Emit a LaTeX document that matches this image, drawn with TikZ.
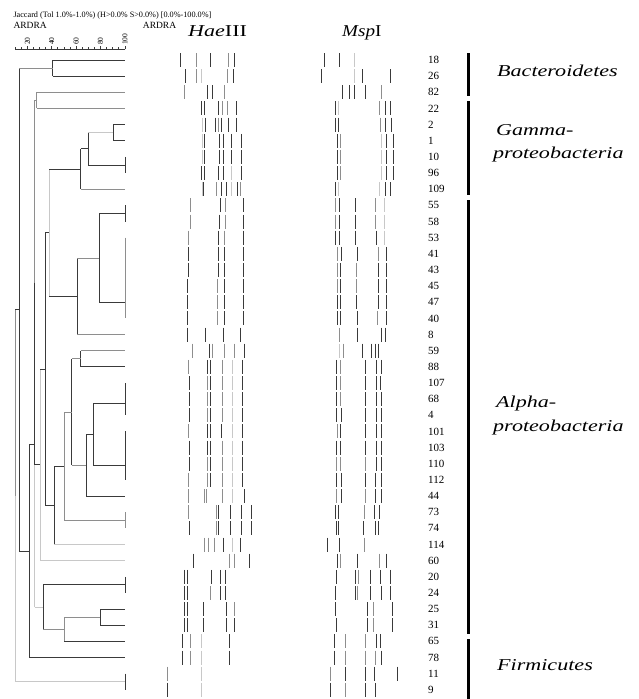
\documentclass[tikz,border=0pt]{standalone}
\usepackage{fontspec}
\setmainfont{Liberation Serif}
\usepackage{graphicx}
\definecolor{cd}{HTML}{3A3A3A}
\definecolor{cg}{HTML}{8E8E8E}
\definecolor{cl}{HTML}{C8C8C8}
\newcommand{\bandrow}[2]{\foreach \bx/\bc in {#2}{\draw[band,draw=\bc] (\bx,{60+16.15*#1-7}) -- (\bx,{60+16.15*#1+7});}}
\newcommand{\clus}[4]{\draw[#3] (#1) -- (#1 |- #2); \draw[#4] (#1 |- #2) -- (#2);}
\tikzset{
  dk/.style={draw=cd,line width=0.9pt},
  gy/.style={draw=cg,line width=0.9pt},
  lg/.style={draw=cl,line width=0.9pt},
  band/.style={line width=1.0pt},
  num/.style={anchor=west,inner sep=0pt,font=\fontsize{11}{12}\selectfont},
  grp/.style={anchor=base west,inner sep=0pt,font=\fontsize{16.6}{18}\selectfont\itshape},
  bar/.style={line width=2.7pt,draw=black},
  sclab/.style={anchor=west,rotate=90,inner sep=0pt,font=\fontsize{7.5}{8}\selectfont},
}
\begin{document}
\begin{tikzpicture}[x=1pt,y=-1pt]
\useasboundingbox (0,0) rectangle (639,699);
\fill[white] (0,0) rectangle (639,699);
% header
\node[anchor=base west,inner sep=0pt,font=\fontsize{8.2}{9}\selectfont] (hdr) at (13.3,17.3) {Jaccard (Tol 1.0\%-1.0\%) (H>0.0\% S>0.0\%) [0.0\%-100.0\%]};
\node[anchor=base west,inner sep=0pt,font=\fontsize{9.5}{10}\selectfont] (ar1) at (13.3,28) {ARDRA};
\node[anchor=base west,inner sep=0pt,font=\fontsize{9.5}{10}\selectfont] (ar2) at (142.7,28) {ARDRA};
\node[anchor=base west,inner sep=0pt,font=\fontsize{16.6}{18}\selectfont] (hae) at (188,36) {\scalebox{1.33}[1]{\itshape Hae\upshape III}};
\node[anchor=base west,inner sep=0pt,font=\fontsize{16.6}{18}\selectfont] (msp) at (342,36) {\scalebox{1.15}[1]{\itshape Msp\upshape I}};
% scale
\draw[cd,line width=0.8pt] (15.1,49) -- (124.9,49);
\foreach \v in {10,15,...,100}{\draw[cd,line width=0.7pt] ({2.9+1.22*\v},49) -- ({2.9+1.22*\v},46.5);}
\foreach \v in {20,40,60,80,100}{\draw[cd,line width=0.7pt] ({2.9+1.22*\v},49) -- ({2.9+1.22*\v},45.5);
  \node[sclab] (s\v) at ({2.9+1.22*\v},45) {\v};}
% leaves and labels
\foreach \lab [count=\i from 0] in {18,26,82,22,2,1,10,96,109,55,58,53,41,43,45,47,40,8,59,88,107,68,4,101,103,110,112,44,73,74,114,60,20,24,25,31,65,78,11,9}{
  \coordinate (l\i) at (125,{60+16.15*\i});
  \node[num] (t\i) at (428,{60+16.15*\i}) {\lab};
}
% cluster coordinates
\coordinate (cA) at (52.7,68.075);
\coordinate (cB) at (36.7,100.375);
\coordinate (c21) at (113.3,132.675);
\coordinate (g10) at (125,164.975);
\coordinate (cG1) at (88.3,148.825);
\coordinate (cG2) at (80.7,169.01);
\coordinate (g55) at (125,213.425);
\coordinate (gP) at (125,302.755);
\coordinate (cQ) at (99.3,258.09);
\coordinate (cR) at (77.3,296.32);
\coordinate (cS) at (49.3,232.665);
\coordinate (g59) at (80.7,358.775);
\coordinate (gT3) at (125,403.19);
\coordinate (gT4) at (125,465.77);
\coordinate (cU) at (93.3,434.48);
\coordinate (cV) at (86,465.265);
\coordinate (cW) at (71.7,412.02);
\coordinate (g73) at (125,520.275);
\coordinate (cX) at (64,466.15);
\coordinate (cY) at (54,505.32);
\coordinate (cZ) at (45,368.99);
\coordinate (cK) at (40,464.82);
\coordinate (cE) at (34.7,282.6);
\coordinate (g20) at (125,584.875);
\coordinate (g25) at (100,617.175);
\coordinate (cM) at (64,629.29);
\coordinate (cN) at (43.3,607.08);
\coordinate (cD) at (34.7,444.84);
\coordinate (cF) at (29.3,551.2);
\coordinate (cH) at (19.3,309.64);
\coordinate (g11) at (125,681.775);
\coordinate (root) at (15,495.7);
% identical groups
\draw[dk] (l6) -- (l7);
\draw[dk] (l9) -- (l10);
\draw[gy] (l11) -- (l16);
\draw[dk] (l20) -- (l22);
\draw[dk] (l23) -- (l26);
\draw[gy] (l28) -- (l29);
\draw[dk] (l32) -- (l33);
\draw[dk] (l38) -- (l39);
% tree
\clus{cA}{l0}{dk}{dk}\clus{cA}{l1}{dk}{dk}
\clus{cB}{l2}{gy}{gy}\clus{cB}{l3}{gy}{gy}
\clus{c21}{l4}{dk}{dk}\clus{c21}{l5}{dk}{dk}
\clus{cG1}{c21}{dk}{lg}\clus{cG1}{g10}{dk}{dk}
\clus{cG2}{cG1}{dk}{dk}\clus{cG2}{l8}{dk}{gy}
\clus{cQ}{g55}{dk}{dk}\clus{cQ}{gP}{dk}{dk}
\clus{cR}{cQ}{dk}{gy}\clus{cR}{l17}{dk}{gy}
\clus{cS}{cG2}{lg}{dk}\clus{cS}{cR}{lg}{dk}
\clus{g59}{l18}{dk}{gy}\clus{g59}{l19}{dk}{dk}
\clus{cU}{gT3}{dk}{dk}\clus{cU}{gT4}{dk}{dk}
\clus{cV}{cU}{dk}{dk}\clus{cV}{l27}{dk}{dk}
\clus{cW}{g59}{dk}{gy}\clus{cW}{cV}{dk}{gy}
\clus{cX}{cW}{gy}{gy}\clus{cX}{g73}{gy}{gy}
\clus{cY}{cX}{dk}{dk}\clus{cY}{l30}{dk}{lg}
\clus{cZ}{cS}{dk}{dk}\clus{cZ}{cY}{dk}{dk}
\clus{cK}{cZ}{lg}{dk}\clus{cK}{l31}{lg}{lg}
\clus{g25}{l34}{dk}{dk}\clus{g25}{l35}{dk}{dk}
\clus{cM}{g25}{gy}{gy}\clus{cM}{l36}{gy}{dk}
\clus{cN}{g20}{dk}{dk}\clus{cN}{cM}{dk}{gy}
\clus{cD}{cE}{dk}{dk}\clus{cD}{cN}{lg}{lg}
\clus{cE}{cB}{gy}{gy}\clus{cE}{cK}{dk}{dk}
\clus{cF}{cD}{dk}{dk}\clus{cF}{l37}{dk}{dk}
\clus{cH}{cA}{dk}{gy}\clus{cH}{cF}{dk}{dk}
\clus{root}{cH}{gy}{dk}\clus{root}{g11}{lg}{lg}
% HaeIII bands
\bandrow{0}{180/cd,196.7/cg,210.7/cd,228.7/cg,234.3/cd}
\bandrow{1}{185.3/cd,196/cg,201.7/cl,227.7/cg,233.3/cd}
\bandrow{2}{184.3/cg,207.7/cd,212/cd,224/cg}
\bandrow{3}{201.3/cd,204/cd,218.7/cd,222/cg,227.7/cg,236.3/cd}
\bandrow{4}{202/cl,205/cd,215.7/cd,218.3/cg,221.7/cd,228.3/cd,236.3/cd}
\bandrow{5}{202.3/cl,204.3/cd,219.3/cd,223.3/cd,231.3/cd,241/cd}
\bandrow{6}{202.3/cl,204.3/cd,219.3/cd,223.3/cd,231.3/cd,241/cd}
\bandrow{7}{201.3/cd,204.7/cd,218.7/cd,223.3/cd,231.7/cl,241/cd}
\bandrow{8}{202.3/cl,203.7/cd,216/cg,221.7/cd,226/cd,231.7/cl,237.7/cd,240/cg}
\bandrow{9}{190.7/cg,220/cd,225.7/cg,243.3/cd}
\bandrow{10}{190.7/cg,219.3/cd,225.7/cg,243.3/cd}
\bandrow{11}{188/cg,218.3/cd,224/cg,243.3/cd}
\bandrow{12}{188/cd,218.3/cd,224.3/cd,243.3/cd}
\bandrow{13}{188/cd,218.3/cd,224.3/cd,243.3/cd}
\bandrow{14}{187.3/cd,217.7/cg,224.3/cd,243.3/cd}
\bandrow{15}{187.3/cd,217.7/cg,224.3/cd,243.3/cd}
\bandrow{16}{187.3/cd,217.7/cg,224.3/cd,243.3/cd}
\bandrow{17}{187.3/cd,205.3/cd,223.3/cd,240.3/cd}
\bandrow{18}{192/cg,209.3/cd,212/cg,224/cg,234/cg,244.3/cd}
\bandrow{19}{188.7/cg,207.3/cd,210.3/cd,222/cg,232/cl,242.3/cd}
\bandrow{20}{189.3/cd,207.3/cg,210.3/cd,222/cg,232/cl,242.3/cd}
\bandrow{21}{189.3/cd,207.3/cg,210.3/cd,222/cg,232/cl,242.3/cd}
\bandrow{22}{189.3/cd,207.3/cg,210.3/cd,222/cg,232/cl,242.3/cd}
\bandrow{23}{188.7/cg,207.3/cd,210.3/cd,221.3/cd,232/cl,242.3/cd}
\bandrow{24}{189.3/cd,207.3/cd,210.3/cd,222/cg,232/cl,242.3/cd}
\bandrow{25}{189.3/cd,207.7/cg,210/cd,222/cg,232/cl,242.3/cd}
\bandrow{26}{188.7/cg,207.7/cg,210/cd,222/cg,232/cl,242.3/cd}
\bandrow{27}{188.7/cg,204.7/cg,206.7/cg,222/cg,232/cl,244.3/cd}
\bandrow{28}{188.7/cg,216.7/cg,218.3/cd,230.7/cd,241.3/cd,251.7/cd}
\bandrow{29}{189.3/cd,216.7/cg,218.3/cd,230.7/cd,241.3/cd,251.7/cd}
\bandrow{30}{204.3/cg,208.3/cg,214/cg,223.3/cd,232/cl,240.3/cd}
\bandrow{31}{193.3/cd,229.7/cg,234/cg,249.7/cd}
\bandrow{32}{184.3/cd,187.7/cd,211.3/cd,220.7/cd,225.3/cd}
\bandrow{33}{184/cd,187.3/cd,210.7/cg,220.7/cd,225.3/cd}
\bandrow{34}{184.3/cd,187.7/cd,203.7/cd,226.3/cd,234/cg}
\bandrow{35}{184.3/cd,187.7/cd,203.7/cd,226.3/cd,234.3/cd}
\bandrow{36}{182.3/cd,190.3/cg,201.7/cl,229.3/cd}
\bandrow{37}{182.3/cd,190.3/cg,201.7/cl,229.3/cd}
\bandrow{38}{167.3/cg,201.7/cl}
\bandrow{39}{167.3/cd,201.7/cl}
% MspI bands
\bandrow{0}{324.3/cd,339.3/cd,354.3/cl}
\bandrow{1}{321.3/cd,354.3/cl,362.7/cd,390.3/cd}
\bandrow{2}{342.3/cd,349.3/cd,354.3/cd,365.3/cd,381.7/cg}
\bandrow{3}{335/cd,338.3/cl,379.3/cg,385/cd,390/cd}
\bandrow{4}{335/cd,338.3/cd,380/cg,385.7/cd,391.3/cd}
\bandrow{5}{337.7/cd,340.7/cg,381.7/cl,386.3/cd,393.3/cd}
\bandrow{6}{337.7/cd,340.7/cg,381.7/cl,386.3/cd,393.3/cd}
\bandrow{7}{337.7/cd,340.7/cg,381.7/cl,386.3/cd,393.3/cd}
\bandrow{8}{335/cd,338.3/cl,379.3/cl,385/cd,390/cd}
\bandrow{9}{335/cg,339.3/cd,355.3/cd,375.7/cg,384/cl}
\bandrow{10}{335/cg,339.3/cd,355.3/cd,375.7/cg,384/cl}
\bandrow{11}{335.7/cd,339.3/cd,355.3/cd,376.7/cd,384/cl}
\bandrow{12}{337/cg,341/cd,357.3/cd,378.3/cg,386.3/cd}
\bandrow{13}{337/cg,340.3/cd,356.7/cg,378.3/cd,386.3/cd}
\bandrow{14}{337/cg,340.3/cd,356.7/cg,378.3/cd,386.3/cd}
\bandrow{15}{337/cd,340.3/cd,356.7/cd,378.3/cd,386.3/cd}
\bandrow{16}{337/cd,340.3/cd,357.3/cd,377.7/cg,386.3/cd}
\bandrow{17}{339.7/cg,357.3/cd,381.3/cd,385.3/cd}
\bandrow{18}{339.3/cl,343/cg,362/cd,371/cd,375/cd,378.3/cd}
\bandrow{19}{336.3/cd,340.3/cg,365.7/cd,376/cd,381/cd}
\bandrow{20}{336.3/cd,340.3/cg,365.7/cd,376.7/cd,380.3/cd}
\bandrow{21}{336.3/cd,340.3/cg,365.7/cd,376.7/cd,381/cd}
\bandrow{22}{336.3/cd,341/cd,365.7/cd,376/cd,381/cd}
\bandrow{23}{337/cg,340.3/cd,365/cd,376/cd,381/cd}
\bandrow{24}{336.3/cd,340.3/cd,365.7/cd,376/cd,381/cd}
\bandrow{25}{336.3/cg,340.3/cg,365.7/cg,376.7/cd,381/cd}
\bandrow{26}{336.3/cd,341/cd,365.7/cd,375.3/cd,381/cd}
\bandrow{27}{336.3/cg,341/cd,365.7/cg,375.3/cd,381/cd}
\bandrow{28}{335.3/cd,338.7/cd,364/cg,374.7/cd,379.3/cd}
\bandrow{29}{336.3/cd,338.7/cd,363.3/cd,375.7/cd,378/cd}
\bandrow{30}{327.3/cd,339.3/cd,364.7/cg}
\bandrow{31}{337.3/cd,340.3/cg,357.3/cd,379.7/cg,386.3/cd}
\bandrow{32}{336.3/cd,355.3/cd,358.3/cg,370/cd,380.7/cd,390.3/cd}
\bandrow{33}{335.3/cd,355.3/cd,357.7/cg,370/cd,381.3/cd,390.3/cd}
\bandrow{34}{335.3/cd,367.3/cd,373.7/cg,392.3/cd}
\bandrow{35}{336/cd,367.3/cd,373.7/cg,392.3/cd}
\bandrow{36}{334/cd,345/cg,365.7/cg,376.7/cd,380.7/cd}
\bandrow{37}{334/cd,345/cg,365.7/cg,375.7/cg,381/cd}
\bandrow{38}{330.7/cg,345.3/cd,365.7/cd,374.3/cd,397.3/cd}
\bandrow{39}{330.7/cd,345/cg,365.3/cd,375.3/cd}
% group bars
\draw[bar] (468.3,53) -- (468.3,96);
\draw[bar] (468.3,101) -- (468.3,195);
\draw[bar] (468.3,200) -- (468.3,634);
\draw[bar] (468.3,639) -- (468.3,699);
% group names
\node[grp] (gb) at (497,76) {\scalebox{1.33}[1]{Bacteroidetes}};
\node[grp] (gg1) at (496,135) {\scalebox{1.33}[1]{Gamma-}};
\node[grp] (gg2) at (493,158.3) {\scalebox{1.33}[1]{proteobacteria}};
\node[grp] (ga1) at (496,407) {\scalebox{1.33}[1]{Alpha-}};
\node[grp] (ga2) at (493,431) {\scalebox{1.33}[1]{proteobacteria}};
\node[grp] (gf) at (497,670.7) {\scalebox{1.33}[1]{Firmicutes}};
\end{tikzpicture}
\end{document}
